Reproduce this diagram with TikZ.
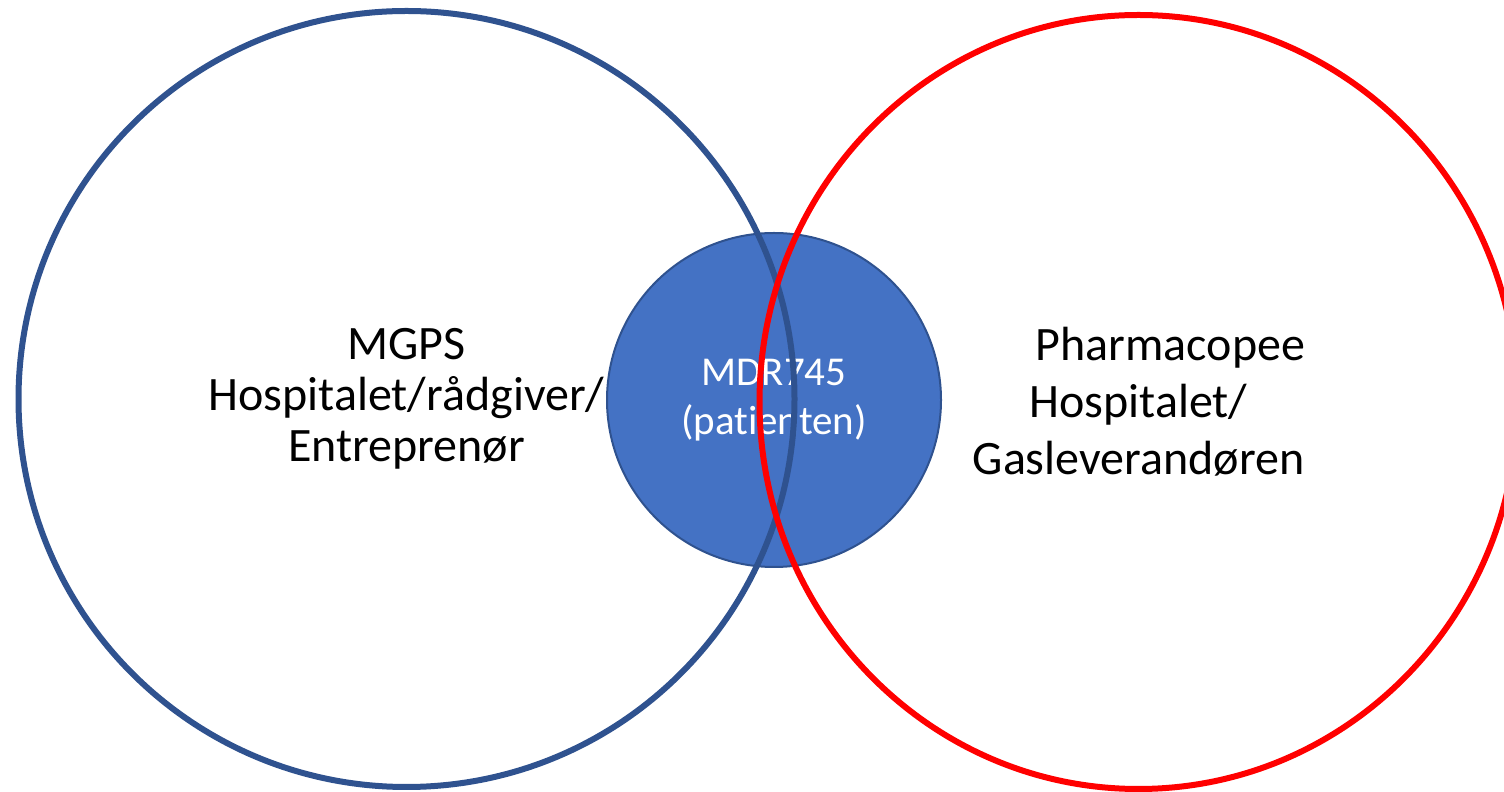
\documentclass[tikz,border=0pt]{standalone}
\usepackage{fontspec}
\setmainfont[Ligatures={NoCommon}]{Carlito}
\usetikzlibrary{shapes.geometric}
\definecolor{ringblue}{HTML}{2F528F}
\definecolor{fillblue}{HTML}{4472C4}
\definecolor{ringred}{HTML}{FF0000}
\begin{document}
\begin{tikzpicture}[x=0.5pt, y=0.5pt,
        ring/.style={circle, draw, line width=3pt, inner sep=0pt, align=center},
        sidetext/.style={font=\fontsize{24pt}{25.5pt}\selectfont}]
        \clip (0,0) rectangle (1504,792);

        \node[circle, draw=ringblue, fill=fillblue, line width=1pt, minimum size=167pt,
              text=white, align=center, font=\fontsize{20.5pt}{24.5pt}\selectfont]
              (mdr) at (774,392) {MDR745\\(patienten)};

        \node[ring, draw=ringblue, minimum size=388pt, sidetext]
              (mgps) at (406.5,393) {MGPS\\Hospitalet/rådgiver/\\Entreprenør};

        \node[ellipse, draw=ringred, line width=3pt, inner sep=0pt,
              minimum width=379pt, minimum height=387pt, align=center,
              font=\fontsize{24pt}{28.5pt}\selectfont]
              (pharma) at (1138.5,390) {\hspace*{32pt}Pharmacopee\\Hospitalet/\\Gasleverandøren};
    \end{tikzpicture}
\end{document}
